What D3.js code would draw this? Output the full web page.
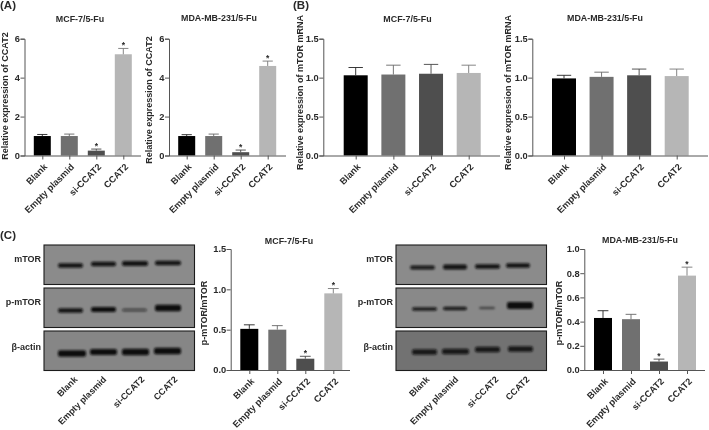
<!DOCTYPE html>
<html>
<head>
<meta charset="utf-8">
<script src="https://cdn.jsdelivr.net/npm/d3@7"></script>
<style>
html,body{margin:0;padding:0;background:#fff}
svg{display:block;filter:blur(0.35px)}
text{font-family:"Liberation Sans",Arial,sans-serif;font-weight:700;fill:#2a2a2a}
</style>
</head>
<body>
<svg id="fig" width="709" height="430"></svg>
<script>
const categories = ["Blank","Empty plasmid","si-CCAT2","CCAT2"];
const barColors = ["#000000","#707070","#4e4e4e","#b6b6b6"];
const whiskerColors = ["#222222","#666666","#444444","#777777"];

const ccat2McfMean = [1.0,1.0,0.25,5.2];
const ccat2McfTop  = [1.08,1.1,0.33,5.5];
const ccat2MdaMean = [1.0,1.0,0.17,4.6];
const ccat2MdaTop  = [1.07,1.1,0.28,4.85];
const mtorMcfMean  = [1.03,1.04,1.05,1.06];
const mtorMcfTop   = [1.13,1.16,1.17,1.16];
const mtorMdaMean  = [0.99,1.01,1.03,1.02];
const mtorMdaTop   = [1.03,1.07,1.11,1.11];
const pmtorMcfMean = [0.51,0.50,0.14,0.95];
const pmtorMcfTop  = [0.56,0.55,0.17,1.01];
const pmtorMdaMean = [0.43,0.42,0.07,0.78];
const pmtorMdaTop  = [0.49,0.46,0.09,0.85];

const ticksCcat2 = [0,2,4,6];
const ticksMtor  = [0,0.5,1.0,1.5];
const ticksMda   = [0,0.2,0.4,0.6,0.8,1.0];
const starsCcat2 = [false,false,true,true];
const starsNone  = [false,false,false,false];
const blotRows = ["mTOR","p-mTOR","β-actin"];

// band: [left, right, level, thickness, darkness] in blot-image units
const blotMcf = [
 [[14,39,20.5,4.6,.95],[47,72,19,4.6,.95],[78,104,18.5,4.8,.95],[111,137,18,4.6,.95]],
 [[14,39,22.5,4.4,.95],[47,72,21.5,5,1],[78,103,22,3.2,.55],[111,137,20,6.4,1]],
 [[14,42,22.5,6.4,1],[46,73,21,6,1],[78,105,21,6.4,1],[110,137,20,6.4,1]]
];
const blotMda = [
 [[14,39,22.5,4.2,.9],[47,71,22,4.8,.95],[79,104,21.5,4.4,.95],[110,134,20.5,4.4,.95]],
 [[16,41,21,3.6,.9],[47,71,20.5,3.6,.9],[83,99,20,2.4,.5],[111,137,17.5,7,1]],
 [[16,41,21,5.6,.9],[46,73,20.5,5.6,.9],[79,104,18.5,5.6,.9],[112,137,18,5.6,.9]]
];
const blotMcfBg = ["#8b8b8b","#898989","#868686"];
const blotMdaBg = ["#8b8b8b","#898989","#727272"];

const svg = d3.select("#fig");
const defs = svg.append("defs");
defs.append("filter").attr("id","soft").attr("x","-20%").attr("y","-80%").attr("width","140%").attr("height","260%")
  .append("feGaussianBlur").attr("stdDeviation","1");

function barPanel(o){
  const g = svg.append("g");
  const y = d3.scaleLinear().domain(o.domain).range([o.y0,o.y1]);
  const x = d3.scalePoint().domain(categories).range([o.first,o.last]);
  g.selectAll("rect.bar").data(categories).join("rect").attr("class","bar")
    .attr("x",d=>x(d)-o.bw/2).attr("width",o.bw)
    .attr("y",(d,i)=>y(o.mean[i])).attr("height",(d,i)=>y(0)-y(o.mean[i]))
    .attr("fill",(d,i)=>barColors[i]);
  const cap = o.bw*0.3;
  categories.forEach((c,i)=>{
    const w = g.append("g").attr("stroke",whiskerColors[i]).attr("stroke-width",0.9);
    w.append("line").attr("x1",x(c)).attr("x2",x(c)).attr("y1",y(o.mean[i])).attr("y2",y(o.top[i]));
    w.append("line").attr("x1",x(c)-cap).attr("x2",x(c)+cap).attr("y1",y(o.top[i])).attr("y2",y(o.top[i]));
    if(o.stars[i]) g.append("text").attr("x",x(c)).attr("y",y(o.top[i])-0.5)
      .attr("text-anchor","middle").attr("font-size",8.5).text("*");
  });
  const ya = g.append("g").attr("transform",`translate(${o.ax},0)`)
    .call(d3.axisLeft(y).tickValues(o.ticks).tickSize(4).tickFormat(d3.format(o.fmt)));
  ya.select(".domain").attr("stroke","#555").attr("stroke-width",1);
  ya.selectAll("line").attr("stroke","#555");
  ya.selectAll("text").attr("font-size",9.3).style("fill","#2a2a2a").attr("x",-4.5);
  ya.attr("font-family",null);
  const xa = g.append("g").attr("transform",`translate(0,${o.y0})`)
    .call(d3.axisBottom(x).tickSize(4).tickSizeOuter(0));
  xa.attr("font-family",null);
  xa.select(".domain").attr("d",`M${o.ax},0.5H${o.end}`).attr("stroke","#555").attr("stroke-width",1);
  xa.selectAll("line").attr("stroke","#555");
  xa.selectAll("text").attr("font-size",9.2).attr("text-anchor","end")
    .attr("dy",0).attr("y",0).attr("x",0)
    .attr("transform","translate(5,12) rotate(-45)");
  g.append("text").attr("x",o.tx).attr("y",o.ty).attr("text-anchor","middle").attr("font-size",8.9).text(o.title);
  g.append("text").attr("transform",`translate(${o.lx},${o.ly}) rotate(-90)`)
    .attr("text-anchor","middle").attr("font-size",o.lfs).text(o.label);
}

barPanel({mean:ccat2McfMean,top:ccat2McfTop,domain:[0,6],ticks:ticksCcat2,fmt:"d",stars:starsCcat2,
  y0:155.5,y1:38.7,ax:24.5,first:42.3,last:123.3,end:141,bw:17,title:"MCF-7/5-Fu",tx:80,ty:21.5,
  label:"Relative expression of CCAT2",lx:8,ly:96,lfs:9});
barPanel({mean:ccat2MdaMean,top:ccat2MdaTop,domain:[0,6],ticks:ticksCcat2,fmt:"d",stars:starsCcat2,
  y0:155.5,y1:38.7,ax:169,first:186.7,last:267.7,end:286,bw:17,title:"MDA-MB-231/5-Fu",tx:219,ty:21,
  label:"Relative expression of CCAT2",lx:152,ly:100,lfs:9});
barPanel({mean:mtorMcfMean,top:mtorMcfTop,domain:[0,1.5],ticks:ticksMtor,fmt:".1f",stars:starsNone,
  y0:155.5,y1:38.7,ax:323.3,first:355.7,last:468.7,end:500,bw:24,title:"MCF-7/5-Fu",tx:407.5,ty:22,
  label:"Relative expression of mTOR mRNA",lx:303,ly:92.5,lfs:9});
barPanel({mean:mtorMdaMean,top:mtorMdaTop,domain:[0,1.5],ticks:ticksMtor,fmt:".1f",stars:starsNone,
  y0:155.5,y1:38.7,ax:532.3,first:564,last:676.7,end:708,bw:24,title:"MDA-MB-231/5-Fu",tx:605,ty:21,
  label:"Relative expression of mTOR mRNA",lx:511,ly:92.5,lfs:9});
barPanel({mean:pmtorMcfMean,top:pmtorMcfTop,domain:[0,1.5],ticks:ticksMtor,fmt:".1f",stars:starsCcat2,
  y0:370,y1:249,ax:230.7,first:249.3,last:333.3,end:350,bw:18,title:"MCF-7/5-Fu",tx:289,ty:244,
  label:"p-mTOR/mTOR",lx:207,ly:313,lfs:9});
barPanel({mean:pmtorMdaMean,top:pmtorMdaTop,domain:[0,1],ticks:ticksMda,fmt:".1f",stars:starsCcat2,
  y0:370,y1:249,ax:584.3,first:603,last:687,end:705,bw:18,title:"MDA-MB-231/5-Fu",tx:640,ty:243,
  label:"p-mTOR/mTOR",lx:562,ly:313,lfs:9});

function blot(o){
  const g = svg.append("g");
  const rowTops = [245,288,331], rowH = 39.5;
  const bx = d3.scaleLinear().domain([0,150.5]).range([o.x,o.x+150.5]);
  blotRows.forEach((name,r)=>{
    const top = rowTops[r];
    const by = d3.scaleLinear().domain([0,rowH]).range([top,top+rowH]);
    g.append("rect").attr("x",bx(0)).attr("y",top).attr("width",150.5).attr("height",rowH)
      .attr("fill",o.bg[r]).attr("stroke","#1c1c1c").attr("stroke-width",1.1);
    g.append("g").attr("filter","url(#soft)").selectAll("rect").data(o.bands[r]).join("rect")
      .attr("x",d=>bx(d[0])).attr("width",d=>bx(d[1])-bx(d[0]))
      .attr("y",d=>by(d[2]-d[3]/2)).attr("height",d=>d[3]).attr("rx",2).attr("ry",2)
      .attr("fill","#0c0c0c").attr("opacity",d=>d[4]);
    g.append("text").attr("x",o.x-3).attr("y",top+16.5+(r===2?2:0)).attr("text-anchor","end")
      .attr("font-size",9).text(name);
  });
  categories.forEach((c,i)=>{
    g.append("text").attr("text-anchor","end").attr("font-size",9)
      .attr("transform",`translate(${o.labelX[i]},${380}) rotate(-45)`).text(c);
  });
}
blot({x:44,bands:blotMcf,bg:blotMcfBg,labelX:[78,107,145,178]});
blot({x:396,bands:blotMda,bg:blotMdaBg,labelX:[430,459,499,530]});

[["(A)",0,9],["(B)",293,9],["(C)",0,239]].forEach(p=>{
  svg.append("text").attr("x",p[1]).attr("y",p[2]).attr("font-size",11.5).text(p[0]);
});
</script>
</body>
</html>
